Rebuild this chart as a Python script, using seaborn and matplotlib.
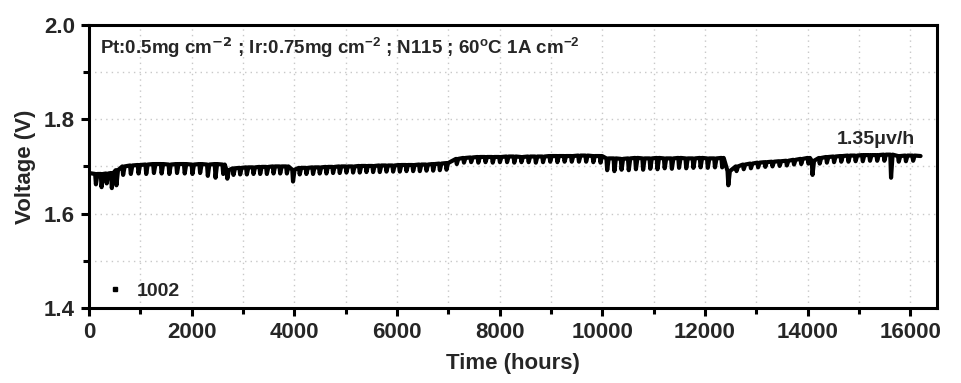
import numpy as np
import pandas as pd
import seaborn as sns
import matplotlib.pyplot as plt
from matplotlib.lines import Line2D
from matplotlib.ticker import MultipleLocator

# ---------------- Data ----------------
# every maintenance stop shows up as a short dip: time, voltage before the dip, dip minimum
dip_time = [120, 230, 330, 430, 520, 650, 800, 950, 1100, 1250, 1400, 1550, 1700, 1850,
            2000, 2150, 2300, 2450, 2600,
            2680, 2800, 2930, 3060, 3190, 3320, 3450, 3580, 3710, 3840,
            3960, 4090, 4220, 4350, 4480, 4610, 4740, 4870, 5000, 5130, 5260, 5390,
            5520, 5650, 5780, 5910, 6040, 6170, 6300, 6430, 6560, 6690, 6820, 6950,
            7150, 7290, 7430, 7570, 7710, 7850, 7990, 8130, 8270, 8410, 8550, 8690,
            8830, 8970, 9110, 9250, 9390, 9530, 9670, 9810, 9950,
            10080, 10220, 10360, 10500, 10640, 10780, 10920, 11060, 11200, 11340,
            11480, 11620, 11760, 11900, 12040, 12180, 12320,
            12440, 12600, 12740, 12880, 13020, 13160, 13300, 13440, 13580, 13720,
            13860, 14000,
            14080, 14220, 14360, 14500, 14640, 14780, 14920, 15060, 15200, 15340,
            15480, 15610, 15760, 15900, 16040]
dip_top = [1.684, 1.684, 1.685, 1.686, 1.692, 1.700, 1.702, 1.703, 1.704, 1.705, 1.705, 1.704,
           1.705, 1.705, 1.704, 1.705, 1.704, 1.705, 1.704,
           1.692, 1.696, 1.697, 1.698, 1.698, 1.699, 1.699, 1.700, 1.700, 1.700,
           1.693, 1.697, 1.697, 1.698, 1.698, 1.699, 1.699, 1.700, 1.700, 1.700, 1.701, 1.701,
           1.701, 1.702, 1.702, 1.702, 1.703, 1.703, 1.703, 1.704, 1.704, 1.705, 1.706, 1.707,
           1.716, 1.718, 1.719, 1.720, 1.720, 1.720, 1.720, 1.721, 1.721, 1.720, 1.721, 1.721,
           1.721, 1.722, 1.722, 1.722, 1.722, 1.723, 1.723, 1.722, 1.722,
           1.717, 1.717, 1.716, 1.717, 1.718, 1.717, 1.717, 1.718, 1.717, 1.717,
           1.718, 1.717, 1.717, 1.718, 1.717, 1.717, 1.718,
           1.690, 1.700, 1.704, 1.706, 1.708, 1.709, 1.710, 1.711, 1.712, 1.714,
           1.716, 1.718,
           1.712, 1.718, 1.720, 1.721, 1.722, 1.723, 1.723, 1.724, 1.724, 1.724,
           1.725, 1.725, 1.722, 1.723, 1.723]
dip_low = [1.662, 1.656, 1.664, 1.654, 1.660, 1.682, 1.684, 1.685, 1.684, 1.686, 1.685, 1.684,
           1.686, 1.685, 1.684, 1.686, 1.680, 1.676, 1.684,
           1.674, 1.682, 1.683, 1.683, 1.684, 1.684, 1.684, 1.685, 1.685, 1.685,
           1.668, 1.683, 1.684, 1.684, 1.685, 1.685, 1.686, 1.686, 1.687, 1.687, 1.687, 1.688,
           1.688, 1.688, 1.689, 1.689, 1.689, 1.690, 1.690, 1.690, 1.691, 1.691, 1.692, 1.693,
           1.705, 1.708, 1.709, 1.708, 1.709, 1.708, 1.709, 1.709, 1.708, 1.709, 1.709, 1.708,
           1.709, 1.710, 1.709, 1.710, 1.710, 1.710, 1.710, 1.709, 1.708,
           1.692, 1.690, 1.693, 1.692, 1.694, 1.693, 1.695, 1.694, 1.696, 1.695,
           1.697, 1.696, 1.697, 1.698, 1.697, 1.698, 1.698,
           1.660, 1.690, 1.694, 1.696, 1.698, 1.699, 1.700, 1.701, 1.702, 1.704,
           1.705, 1.706,
           1.682, 1.706, 1.708, 1.709, 1.710, 1.710, 1.711, 1.711, 1.712, 1.712,
           1.712, 1.676, 1.710, 1.711, 1.712]
start_point = (0, 1.686)
end_point = (16200, 1.722)

x_ticks = [0, 2000, 4000, 6000, 8000, 10000, 12000, 14000, 16000]
y_ticks = [1.4, 1.6, 1.8, 2.0]

# ---------------- Build the trace ----------------
xs, ys = [start_point[0]], [start_point[1]]
for t, top, low in zip(dip_time, dip_top, dip_low):
    xs += [t, t + 15, t + 45]
    ys += [top, low, top]
xs.append(end_point[0])
ys.append(end_point[1])
trace = pd.DataFrame({'Time': xs, 'Voltage': ys, 'order': range(len(xs))})

# ---------------- Plot ----------------
sns.set_theme(style='ticks')
plt.rcParams['font.family'] = ['Liberation Sans', 'DejaVu Sans']
plt.rcParams['font.weight'] = 'bold'
plt.rcParams['mathtext.fontset'] = 'custom'
plt.rcParams['mathtext.rm'] = 'Liberation Sans:bold'
plt.rcParams['mathtext.it'] = 'Liberation Sans:bold'
plt.rcParams['mathtext.bf'] = 'Liberation Sans:bold'
plt.rcParams['mathtext.default'] = 'bf'

fig = plt.figure(figsize=(9.62, 3.83), dpi=100)
ax = fig.add_axes([0.0925, 0.196, 0.8815, 0.739])

sns.lineplot(data=trace, x='Time', y='Voltage', ax=ax, color='black', lw=3.0,
             estimator=None, sort=False, legend=False)

ax.set_xlim(0, 16520)
ax.set_ylim(1.4, 2.0)
ax.set_xticks(x_ticks)
ax.set_yticks(y_ticks)
ax.set_yticklabels([f'{v:.1f}' for v in y_ticks])
ax.xaxis.set_minor_locator(MultipleLocator(1000))
ax.yaxis.set_minor_locator(MultipleLocator(0.1))
ax.grid(which='both', color='#c8c8c8', linestyle=(0, (1, 3)), linewidth=1.0)
ax.set_axisbelow(True)

for side in ax.spines.values():
    side.set_linewidth(2.2)
    side.set_color('black')
ax.tick_params(which='major', length=6, width=2.2, labelsize=16, color='black', pad=4)
ax.tick_params(which='minor', length=4, width=2.2, color='black')
for lab in ax.get_xticklabels() + ax.get_yticklabels():
    lab.set_fontweight('bold')

ax.set_xlabel('Time (hours)', fontsize=16, fontweight='bold', labelpad=7)
ax.set_ylabel('Voltage (V)', fontsize=16, fontweight='bold', labelpad=6)

ax.text(0.013, 0.92,
        r'Pt:0.5mg cm$^{\mathsf{-2}}$ ; Ir:0.75mg cm$^{-2}$ ; N115 ; 60$^{o}$C 1A cm$^{-2}$',
        transform=ax.transAxes, fontsize=13.5, fontweight='bold', va='center', ha='left')
ax.text(0.974, 0.595, '1.35\u03bcv/h', transform=ax.transAxes, fontsize=14,
        fontweight='bold', va='center', ha='right')

handle = Line2D([], [], marker='s', ls='', color='black', ms=2.5)
ax.legend(handles=[handle], labels=['1002'], loc='lower left', frameon=False,
          prop={'size': 14, 'weight': 'bold'}, handletextpad=0.5, handlelength=1.2,
          borderaxespad=0, bbox_to_anchor=(0.008, 0.0))

fig.savefig('out.png', dpi=100)
